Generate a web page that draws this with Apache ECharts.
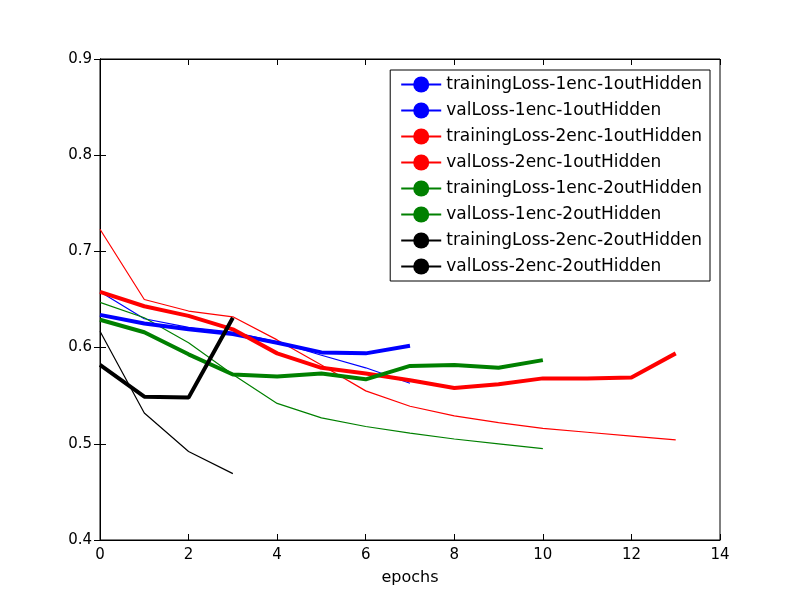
<!DOCTYPE html>
<html><head><meta charset="utf-8">
<script src="https://cdn.jsdelivr.net/npm/echarts@6/dist/echarts.min.js"></script>
<style>html,body{margin:0;background:#fff}#c{width:800px;height:600px}</style>
</head><body><div id="c"></div>
<script>
const names = ['trainingLoss-1enc-1outHidden','valLoss-1enc-1outHidden','trainingLoss-2enc-1outHidden','valLoss-2enc-1outHidden','trainingLoss-1enc-2outHidden','valLoss-1enc-2outHidden','trainingLoss-2enc-2outHidden','valLoss-2enc-2outHidden'];
const train11 = [0.658,0.630,0.621,0.616,0.606,0.592,0.579,0.563];
const val11 = [0.634,0.625,0.619,0.614,0.605,0.595,0.594,0.602];
const train21 = [0.723,0.650,0.638,0.632,0.608,0.582,0.555,0.539,0.529,0.522,0.516,0.512,0.508,0.504];
const val21 = [0.658,0.643,0.633,0.619,0.594,0.579,0.573,0.566,0.558,0.562,0.568,0.568,0.569,0.594];
const train12 = [0.647,0.631,0.605,0.572,0.542,0.527,0.518,0.511,0.505,0.500,0.495];
const val12 = [0.629,0.616,0.593,0.572,0.570,0.573,0.567,0.581,0.582,0.579,0.587];
const train22 = [0.617,0.532,0.492,0.469];
const val22 = [0.582,0.549,0.548,0.631];
const data = [train11,val11,train21,val21,train12,val12,train22,val22];
const colors = ['#0000ff','#0000ff','#ff0000','#ff0000','#008000','#008000','#000000','#000000'];
const series = data.map((d,i)=>({
  name:names[i], type:'line', symbol:'none', data:d.map((v,j)=>[j,v]),
  lineStyle:{color:colors[i], width: i%2 ? 4 : 1.2}, itemStyle:{color:colors[i]}, z: i%2?3:2
}));
const tick = {inside:true,length:6,lineStyle:{color:'#000'}};
const chart = echarts.init(document.getElementById('c'));
chart.setOption({
  animation:false,
  grid:{left:100,right:80,top:59,bottom:60,show:true,borderColor:'#000',borderWidth:1},
  xAxis:[{type:'value',min:0,max:14,interval:2,name:'epochs',nameLocation:'middle',nameGap:30,
    nameTextStyle:{fontSize:16,color:'#000',fontFamily:'DejaVu Sans'},
    axisLine:{lineStyle:{color:'#000'}},axisTick:tick,
    axisLabel:{color:'#000',fontSize:15,fontFamily:'DejaVu Sans'},splitLine:{show:false}},
    {type:'value',position:'top',min:0,max:14,interval:2,axisLine:{lineStyle:{color:'#000'}},axisTick:tick,axisLabel:{show:false},splitLine:{show:false}}],
  yAxis:[{type:'value',min:0.4,max:0.9,interval:0.1,
    axisLine:{show:true,lineStyle:{color:'#000'}},axisTick:tick,
    axisLabel:{color:'#000',fontSize:15,fontFamily:'DejaVu Sans',formatter:v=>v.toFixed(1)},splitLine:{show:false}},
    {type:'value',position:'right',min:0.4,max:0.9,interval:0.1,axisLine:{show:true,lineStyle:{color:'#000'}},axisTick:tick,axisLabel:{show:false},splitLine:{show:false}}],
  legend:{orient:'vertical',right:90,top:70,backgroundColor:'#fff',borderColor:'#000',borderWidth:1,
    padding:[6,8,6,10],itemGap:9,itemWidth:40,itemHeight:20,
    textStyle:{fontSize:17,color:'#000',fontFamily:'DejaVu Sans'},data:names},
  series:series
});
</script></body></html>
